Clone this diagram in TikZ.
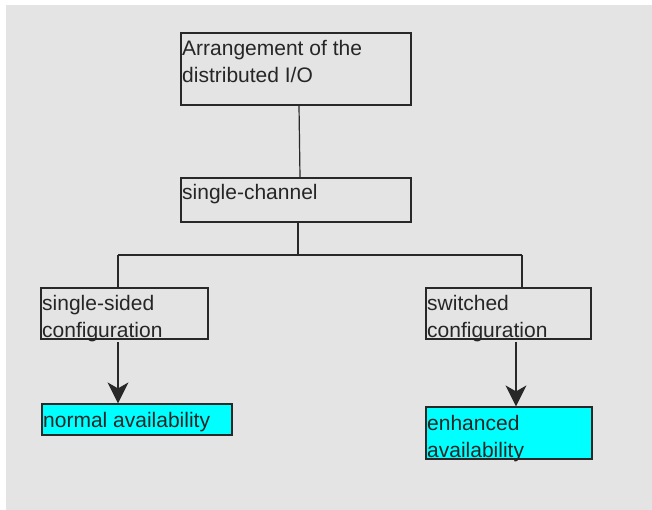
\documentclass[tikz,border=0pt]{standalone}
\usepackage{fontspec}
\setmainfont{Liberation Sans}
\usetikzlibrary{arrows.meta}
\definecolor{bg}{RGB}{228,228,228}
\definecolor{edge}{RGB}{40,40,40}
\definecolor{aqua}{RGB}{0,255,255}
\tikzset{
  box/.style={draw=edge, line width=1.2pt, rectangle, inner sep=0pt},
  cyanbox/.style={box, fill=aqua},
  txt/.style={anchor=base west, inner sep=0pt, align=left, font=\fontsize{21}{27}\selectfont, text=black!85},
  conn/.style={draw=edge, line width=1.2pt},
  arr/.style={conn, -{Stealth[length=21pt, width=21pt, inset=6pt]}}
}
\begin{document}
\begin{tikzpicture}[x=1pt, y=-1pt]
\useasboundingbox (0,0) rectangle (652,510);
\fill[bg] (6,5) rectangle (652,510);
% boxes
\node[box, minimum width=230pt, minimum height=72pt] (b1) at (296,69) {};
\node[box, minimum width=230pt, minimum height=44pt] (b2) at (296,200) {};
\node[box, minimum width=167pt, minimum height=51pt] (b3) at (124.5,313.5) {};
\node[box, minimum width=165pt, minimum height=51pt] (b4) at (508.5,313.5) {};
\node[cyanbox, minimum width=190pt, minimum height=31pt] (b5) at (137,419.5) {};
\node[cyanbox, minimum width=166pt, minimum height=52pt] (b6) at (509,433) {};
% texts (multi-line nodes: base = last line)
\node[txt] (t1) at (182,83) {Arrangement of the\\distributed I/O};
\node[txt] (t2) at (182,200) {single-channel};
\node[txt] (t3) at (42,337) {single-sided\\configuration};
\node[txt] (t4) at (427,337) {switched\\configuration};
\node[txt] (t5) at (43,427) {normal availability};
\node[txt] (t6) at (427,457) {enhanced\\availability};
% connectors
\coordinate (j) at (298,255);
\coordinate (jl) at (118,255);
\coordinate (jr) at (522,255);
\draw[conn] ([xshift=3pt]b1.south) -- ([xshift=4pt]b2.north);
\draw[conn] ([xshift=2pt]b2.south) -- (j);
\draw[conn] (jl) -- (jr);
\draw[conn] (jl) -- (jl |- b3.north);
\draw[conn] (jr) -- (jr |- b4.north);
\coordinate (al) at (118,342);
\coordinate (ar) at (516,342);
\draw[arr] (al) -- (al |- b5.north);
\draw[arr] (ar) -- (ar |- b6.north);
\end{tikzpicture}
\end{document}
